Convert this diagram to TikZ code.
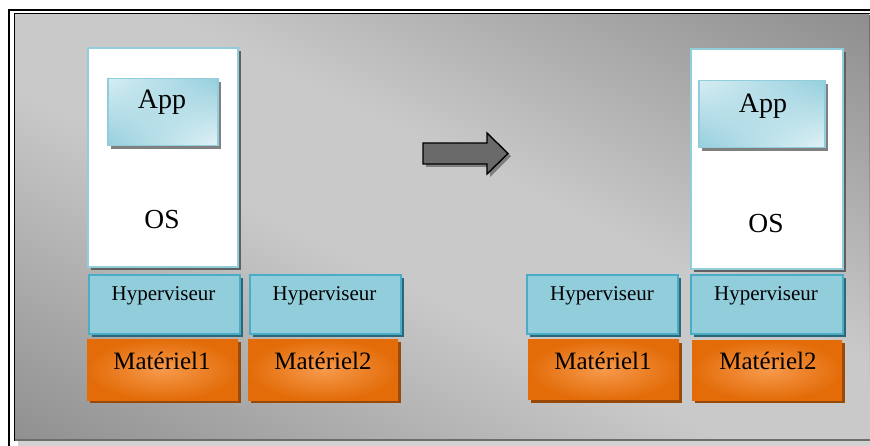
\documentclass[tikz,border=0pt]{standalone}
\usepackage{fontspec}
\setmainfont{Liberation Serif}
\usetikzlibrary{shadows,shadings}
\definecolor{bgdarkA}{HTML}{6E6E6E}
\definecolor{bgdarkB}{HTML}{6A6A6A}
\definecolor{bglight}{HTML}{C9C9C9}
\definecolor{hypfill}{HTML}{92CDDC}
\definecolor{hypline}{HTML}{4BACC6}
\definecolor{hypshadow}{HTML}{2A6778}
\definecolor{osline}{HTML}{92CDDC}
\definecolor{matout}{HTML}{E36C09}
\definecolor{matin}{HTML}{F79A4C}
\definecolor{matshadow}{HTML}{984807}
\definecolor{appA}{HTML}{D6EDF3}
\definecolor{appB}{HTML}{95CFDD}
\definecolor{appC}{HTML}{E2F2F6}
\definecolor{arrowfill}{HTML}{6A6A6A}
\pgfdeclarehorizontalshading{bgdiag}{100bp}{color(0bp)=(bgdarkA); color(44bp)=(bglight); color(56bp)=(bglight); color(100bp)=(bgdarkB)}
\tikzset{
  boxbase/.style={rectangle, anchor=north west, inner sep=0pt},
  osbox/.style={boxbase, fill=white, draw=osline, line width=2pt,
    general shadow={fill=gray!75!black, shadow xshift=3pt, shadow yshift=-3pt}},
  appbox/.style={boxbase, draw=osline, line width=1.5pt,
    upper left=appA, upper right=appB, lower left=appB, lower right=appC,
    general shadow={fill=gray, shadow xshift=3pt, shadow yshift=-3pt}},
  hypbox/.style={boxbase, fill=hypfill, draw=hypline, line width=2.2pt,
    general shadow={fill=hypshadow, shadow xshift=3pt, shadow yshift=-3pt}},
  matbox/.style={boxbase, inner color=matin, outer color=matout,
    general shadow={fill=matshadow, shadow xshift=3pt, shadow yshift=-3pt}},
  lbl/.style={anchor=base, inner sep=0pt, text=black},
  apptxt/.style={lbl, font=\fontsize{28}{30}\selectfont},
  ostxt/.style={lbl, font=\fontsize{27.5}{30}\selectfont},
  hyptxt/.style={lbl, font=\fontsize{21}{24}\selectfont},
  mattxt/.style={lbl, font=\fontsize{25}{28}\selectfont},
}
\begin{document}
\begin{tikzpicture}[x=1pt,y=-1pt]
\useasboundingbox (0,0) rectangle (870,446);
\fill[white] (0,0) rectangle (870,446);
% background panel
\fill[gray!35] (18,441) rectangle (870,446);
\begin{scope}
\clip (15,15) rectangle (868.8,440.5);
\shade[shading=bgdiag, shading angle=63.6] (15,15) rectangle (880,440.5);
\end{scope}
% right edge column drawn with plain fills
\foreach \i in {0,...,24}{
  \pgfmathsetmacro{\pp}{100*(1-(\i+0.5)/25)}
  \fill[bgdarkB!\pp!bglight] (868.6,{15+\i*14.96}) rectangle (870,{15+(\i+1)*14.96+0.3});
}
\fill[bglight] (868.6,389) rectangle (870,440.5);
\draw[gray!85!black, line width=1.2pt] (15,440) -- (870,440);
% frame
\draw[black, line width=2.6pt] (9,447) -- (9,10) -- (870,10);
\draw[black, line width=1.2pt] (14.3,441) -- (14.3,13.8) -- (870,13.8);
% left stack
\node[osbox, minimum width=150pt, minimum height=219pt] (os1) at (87,47) {};
\node[appbox, minimum width=110pt, minimum height=67pt] (app1) at (107,78) {};
\node[apptxt] (app1t) at (162,109) {App};
\node[ostxt] (os1t) at (162,229) {OS};
\node[hypbox, minimum width=151pt, minimum height=59pt] (hyp1) at (88,274) {};
\node[hyptxt] (hyp1t) at (163.5,300.5) {Hyperviseur};
\node[hypbox, minimum width=151pt, minimum height=59pt] (hyp2) at (249,274) {};
\node[hyptxt] (hyp2t) at (324.5,300.5) {Hyperviseur};
\node[matbox, minimum width=151pt, minimum height=61pt] (mat1) at (87,339) {};
\node[mattxt] (mat1t) at (162,369) {Matériel1};
\node[matbox, minimum width=150pt, minimum height=61pt] (mat2) at (248,339) {};
\node[mattxt] (mat2t) at (323,369) {Matériel2};
% arrow
\fill[gray!60!black, opacity=0.6] (426,146) -- (490,146) -- (490,136) -- (511,156) -- (490,177) -- (490,167) -- (426,167) -- cycle;
\draw[black, line width=1.4pt, fill=arrowfill, line join=miter] (423,143) -- (487,143) -- (487,133) -- (508,153.5) -- (487,174) -- (487,164) -- (423,164) -- cycle;
% right stack
\node[osbox, minimum width=152pt, minimum height=220pt] (os2) at (690,48) {};
\node[appbox, minimum width=126pt, minimum height=67pt] (app2) at (698,80) {};
\node[apptxt] (app2t) at (763,113) {App};
\node[ostxt] (os2t) at (766,233) {OS};
\node[hypbox, minimum width=151pt, minimum height=59pt] (hyp3) at (526,274) {};
\node[hyptxt] (hyp3t) at (602,300.5) {Hyperviseur};
\node[hypbox, minimum width=152pt, minimum height=59pt] (hyp4) at (690,274) {};
\node[hyptxt] (hyp4t) at (766,300.5) {Hyperviseur};
\node[matbox, minimum width=151pt, minimum height=60pt] (mat3) at (528,339.5) {};
\node[mattxt] (mat3t) at (603,369) {Matériel1};
\node[matbox, minimum width=150pt, minimum height=60pt] (mat4) at (692,340) {};
\node[mattxt] (mat4t) at (768,369) {Matériel2};
\end{tikzpicture}
\end{document}
